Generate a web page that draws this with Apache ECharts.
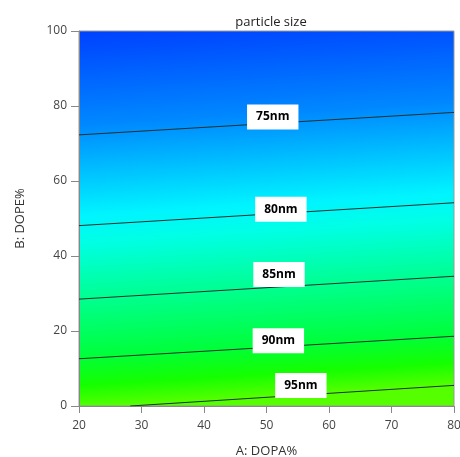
<!DOCTYPE html>
<html>
<head>
<meta charset="utf-8">
<script src="https://cdn.jsdelivr.net/npm/echarts@6/dist/echarts.min.js"></script>
<style>
html,body{margin:0;padding:0;background:#fff;overflow:hidden;}
#chart{width:460px;height:457px;}
</style>
</head>
<body>
<div id="chart"></div>
<script>
// contour levels and where each line enters / leaves the plot
var levels = ['75nm', '80nm', '85nm', '90nm', '95nm'];
var startX = [20, 20, 20, 20, 28.2];
var startY = [72.3, 48.1, 28.5, 12.6, 0];
var endX = [80, 80, 80, 80, 80];
var endY = [78.3, 54.2, 34.6, 18.6, 5.5];
// label box centres
var labelX = [51, 52.3, 52, 51.9, 55.5];
var labelY = [77.1, 52.5, 35.1, 17.4, 5.5];

var chart = echarts.init(document.getElementById('chart'), null, {width: 460, height: 457});

var font = 'Open Sans, DejaVu Sans, sans-serif';

var bg = new echarts.graphic.LinearGradient(0, 0, 0.06, 1, [
	{offset: 0, color: '#0040ff'},
	{offset: 0.25, color: '#0088ff'},
	{offset: 0.49, color: '#00f4ff'},
	{offset: 0.56, color: '#00ffe6'},
	{offset: 0.70, color: '#00ff96'},
	{offset: 0.86, color: '#00ff3c'},
	{offset: 0.94, color: '#14ff00'},
	{offset: 1, color: '#55ff00'}
]);

var series = [];
for (var i = 0; i < levels.length; i++) {
	series.push({
		type: 'line',
		data: [[startX[i], startY[i]], [endX[i], endY[i]]],
		symbol: 'none',
		silent: true,
		lineStyle: {color: '#1a3030', width: 1},
		z: 2
	});
}
series.push({
	type: 'scatter',
	symbolSize: 1,
	silent: true,
	itemStyle: {opacity: 1, color: '#fff'},
	data: labelX.map(function (x, i) { return {value: [x, labelY[i]], name: levels[i]}; }),
	label: {
		show: true,
		position: 'inside',
		formatter: '{b}',
		backgroundColor: '#ffffff',
		opacity: 1,
		padding: [7, 9, 6, 9],
		color: '#000',
		fontWeight: 'bold',
		fontSize: 12,
		fontFamily: font
	},
	z: 5
});

chart.setOption({
	animation: false,
	title: {
		text: 'particle size',
		left: 266,
		textAlign: 'center',
		top: 11,
		textStyle: {fontSize: 13, fontWeight: 'normal', color: '#222', fontFamily: font}
	},
	grid: {
		left: 79, right: 6, top: 31, bottom: 51,
		outerBoundsMode: 'none',
		containLabel: false,
		show: true,
		backgroundColor: bg,
		borderColor: '#999',
		borderWidth: 1
	},
	xAxis: {
		type: 'value',
		min: 20, max: 80, interval: 10,
		name: 'A: DOPA%',
		nameLocation: 'middle',
		nameGap: 39,
		nameTextStyle: {fontSize: 13, color: '#333', fontFamily: font},
		axisLine: {lineStyle: {color: '#888'}},
		axisTick: {length: 7, lineStyle: {color: '#888'}},
		axisLabel: {fontSize: 12, color: '#444', margin: 14, fontFamily: font},
		splitLine: {show: false}
	},
	yAxis: {
		type: 'value',
		min: 0, max: 100, interval: 20,
		name: 'B: DOPE%',
		nameLocation: 'middle',
		nameGap: 52,
		nameTextStyle: {fontSize: 13, color: '#333', fontFamily: font},
		axisLine: {show: true, lineStyle: {color: '#888'}},
		axisTick: {show: true, length: 8, lineStyle: {color: '#888'}},
		axisLabel: {fontSize: 12, color: '#444', margin: 12, fontFamily: font},
		splitLine: {show: false}
	},
	series: series
});
</script>
</body>
</html>
